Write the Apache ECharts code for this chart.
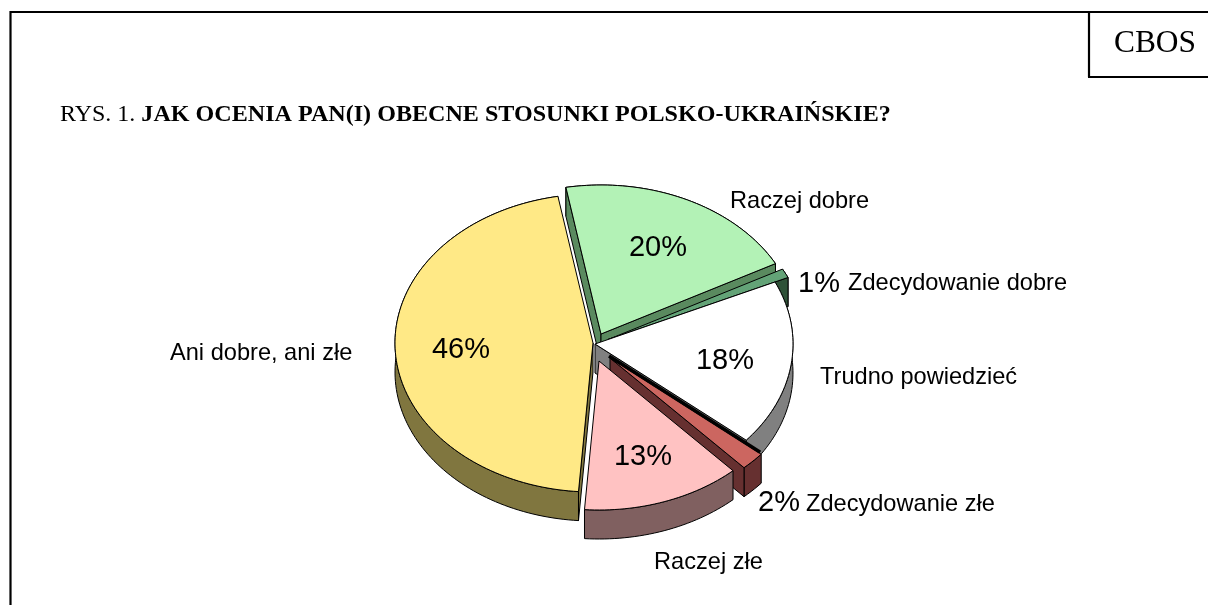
<!doctype html>
<html>

<head>
    <meta charset="utf-8">
    <title>RYS. 1</title>
    <script type="text/javascript" src="https://cdn.jsdelivr.net/npm/echarts@6/dist/echarts.min.js"></script>
</head>

<body style="margin:0;padding:0;background:#fff;">
    <div id="tb" style="width:1208px;height:605px;"></div>
    <script>
        // kolejnosc rysowania = kolejnosc wycinkow zgodnie z ruchem wskazowek (od tylu do przodu)
        var categories = ['Raczej dobre', 'Zdecydowanie dobre', 'Trudno powiedzieć', 'Zdecydowanie złe', 'Raczej złe', 'Ani dobre, ani złe'];
        var values = [20, 1, 18, 2, 13, 46];

        // wyglad, osobno od danych
        var faceColors = ['#b3f2b6', '#63a377', '#ffffff', '#cc6660', '#ffc2c2', '#ffe986'];
        var wallColors = ['#5a8a5f', '#2f5238', '#808080', '#663030', '#806060', '#80763f'];
        var offsets = [[6, -10], [13, -4.5], [0, 0], [15, 14], [4, 17], [-2, -1]];  //wysuniecie wycinka
        var edgeWidths = [0, 0, 0, 3.5, 0, 0];  //gruba linia gornej krawedzi
        var percentPos = [[658, 248], [819, 284], [725, 361], [779, 503], [643, 457], [461, 350]];
        var namePos = [[730, 201], [848, 283], [820, 377], [806, 504], [654, 562], [170, 353]];

        var cx = 595, cy = 344, rx = 198, ry = 149, depth = 29;
        var startAngle = -10.2;
        var total = values.reduce(function (a, b) { return a + b; }, 0);
        var sansFont = '"Liberation Sans", Arial, sans-serif';

        function arcPoints(ox, oy, from, to) {
            var pts = [];
            var n = Math.max(2, Math.ceil((to - from) / 1.5));
            for (var i = 0; i <= n; i++) {
                var t = (from + (to - from) * i / n) * Math.PI / 180;
                pts.push([ox + rx * Math.sin(t), oy - ry * Math.cos(t)]);
            }
            return pts;
        }

        function down(pts) {
            return pts.map(function (p) { return [p[0], p[1] + depth]; });
        }

        function poly(points, fill) {
            return {
                type: 'polygon',
                shape: { points: points },
                style: { fill: fill, stroke: '#000', lineWidth: 1, lineJoin: 'round' }
            };
        }

        function text(x, y, str, size, align) {
            return {
                type: 'text',
                style: { x: x, y: y, text: str, fill: '#000', font: size + 'px ' + sansFont, align: align, verticalAlign: 'middle' }
            };
        }

        function renderSlice(params, api) {
            var i = params.dataIndex;
            var before = 0;
            for (var k = 0; k < i; k++) before += values[k];
            var from = startAngle + before / total * 360;
            var to = from + api.value(0) / total * 360;
            var ox = cx + offsets[i][0], oy = cy + offsets[i][1];
            var arc = arcPoints(ox, oy, from, to);
            var apex = [ox, oy];
            var arcLow = down(arc);
            var apexLow = [ox, oy + depth];
            var first = arc[0], last = arc[arc.length - 1];
            var children = [poly(arc.concat(arcLow.slice().reverse()), wallColors[i])];
            // sciany przekroju tylko gdy widoczne od przodu
            if (Math.sin(from * Math.PI / 180) < 0) {
                children.push(poly([apex, first, arcLow[0], apexLow], wallColors[i]));
            }
            if (Math.sin(to * Math.PI / 180) > 0) {
                children.push(poly([apex, last, arcLow[arcLow.length - 1], apexLow], wallColors[i]));
            }
            children.push(poly([apex].concat(arc), faceColors[i]));
            if (edgeWidths[i]) {
                children.push({
                    type: 'polyline',
                    shape: { points: [[apex[0] - 1, apex[1] - 2], [first[0] - 1, first[1] - 2]] },
                    style: { stroke: '#000', lineWidth: edgeWidths[i], fill: null }
                });
            }
            children.push(text(percentPos[i][0], percentPos[i][1], api.value(0) + '%', 29, 'center'));
            children.push(text(namePos[i][0], namePos[i][1], categories[i], 23.6, 'left'));
            return { type: 'group', children: children };
        }

        var bt = document.getElementById('tb');
        var btchart = echarts.init(bt);
        var line = { stroke: '#000', lineWidth: 2.2 };
        btchart.setOption({
            animation: false,
            title: {
                text: 'RYS. 1. {b|JAK OCENIA PAN(I) OBECNE STOSUNKI POLSKO-UKRAIŃSKIE?}',
                left: 60,
                top: 103,
                padding: 0,
                textStyle: {
                    fontFamily: '"Liberation Serif", "Times New Roman", serif',
                    fontSize: 24,
                    fontWeight: 'normal',
                    color: '#000',
                    rich: {
                        b: { fontFamily: '"Liberation Serif", "Times New Roman", serif', fontSize: 24.1, fontWeight: 'bold', color: '#000' }
                    }
                }
            },
            graphic: [
                { type: 'line', shape: { x1: 10.5, y1: 12, x2: 1208, y2: 12 }, style: line },
                { type: 'line', shape: { x1: 10.5, y1: 11, x2: 10.5, y2: 605 }, style: line },
                { type: 'line', shape: { x1: 1089, y1: 12, x2: 1089, y2: 77 }, style: line },
                { type: 'line', shape: { x1: 1088, y1: 77, x2: 1208, y2: 77 }, style: line },
                {
                    type: 'text', left: 1114, top: 28,
                    style: { text: 'CBOS', fill: '#000', font: '31.4px "Liberation Serif", "Times New Roman", serif' }
                }
            ],
            series: [{
                type: 'custom',
                coordinateSystem: 'none',
                silent: true,
                renderItem: renderSlice,
                data: values
            }]
        });
    </script>
</body>

</html>
